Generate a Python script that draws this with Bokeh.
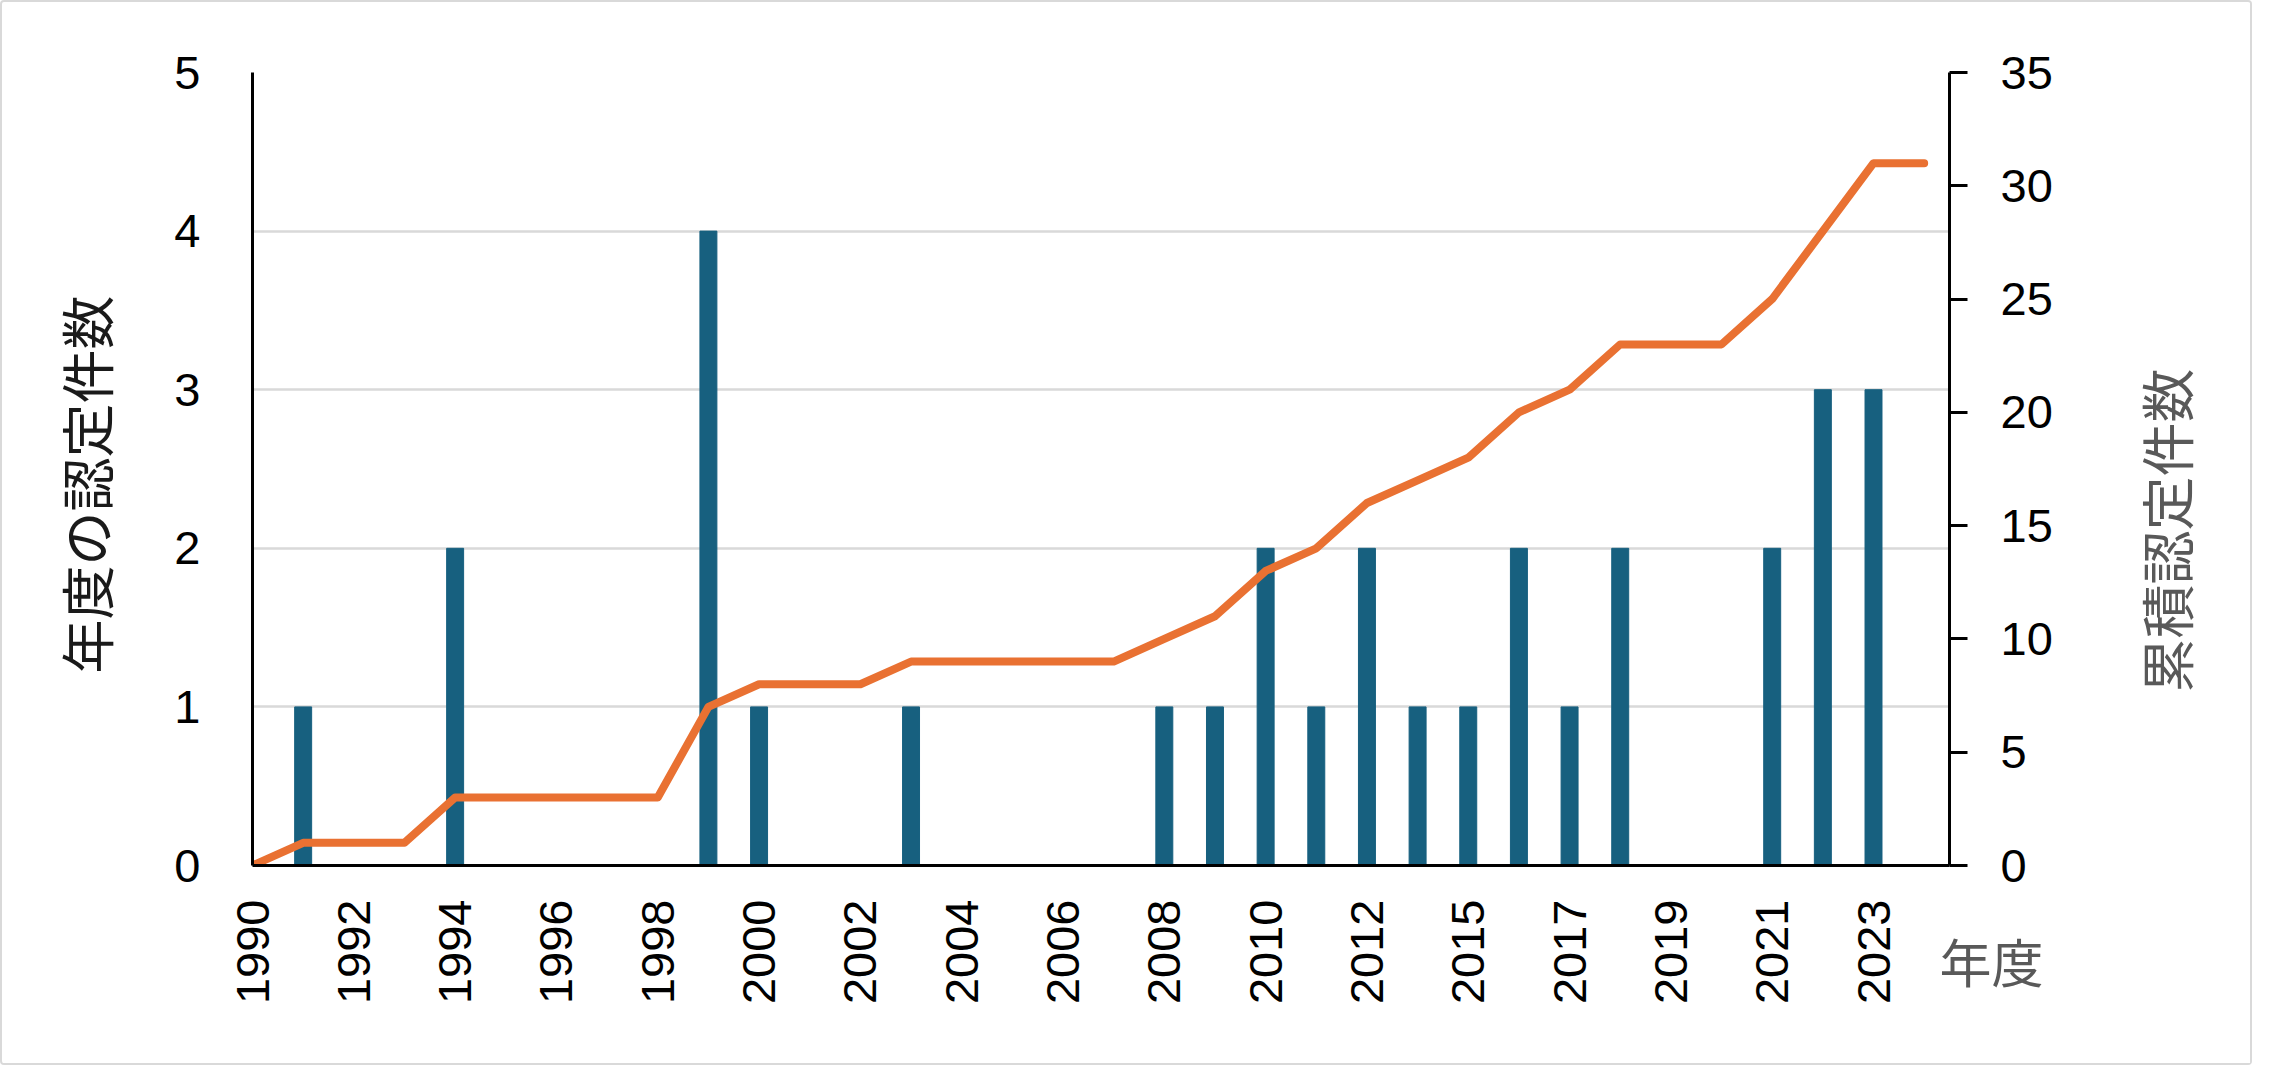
import math
from bokeh.plotting import figure
from bokeh.models import Range1d, LinearAxis, FixedTicker, Title
from bokeh.embed import file_html
from bokeh.resources import INLINE

# ---- data ----
years = ["1990", "1991", "1992", "1993", "1994", "1995", "1996", "1997", "1998", "1999",
         "2000", "2001", "2002", "2003", "2004", "2005", "2006", "2007", "2008", "2009",
         "2010", "2011", "2012", "2013", "2015", "2016", "2017", "2018", "2019", "2020",
         "2021", "2022", "2023", "2024"]
annual = [0, 1, 0, 0, 2, 0, 0, 0, 0, 4,
          1, 0, 0, 1, 0, 0, 0, 0, 1, 1,
          2, 1, 2, 1, 1, 2, 1, 2, 0, 0,
          2, 3, 3, 0]
cumulative = [0, 1, 1, 1, 3, 3, 3, 3, 3, 7,
              8, 8, 8, 9, 9, 9, 9, 9, 10, 11,
              13, 14, 16, 17, 18, 20, 21, 23, 23, 23,
              25, 28, 31, 31]
left_ticks = [0, 1, 2, 3, 4, 5]
right_ticks = [0, 5, 10, 15, 20, 25, 30, 35]
left_title = "年度の認定件数"
right_title = "累積認定件数"
x_title = "年度"

# ---- layout ----
W, H = 2252, 1065
OFF = 2  # border
FL, FT, FR, FB = 252 - OFF, 72 - OFF, 1949 - OFF, 865 - OFF
X_MAX = 33.5
L_MAX, R_MAX = 5, 35

BAR = "#17607f"
ORANGE = "#e97132"
GRID = "#d9d9d9"
TICK_FONT = "Liberation Sans"
CJK_FONT = "Noto Sans CJK JP"

xs = list(range(len(years)))

p = figure(width=W, height=H, x_range=Range1d(0, X_MAX), y_range=Range1d(0, L_MAX),
           output_backend="svg", toolbar_location=None,
           min_border_left=FL, min_border_top=FT,
           min_border_right=W - FR, min_border_bottom=H - FB)
p.extra_y_ranges = {"cum": Range1d(0, R_MAX)}
p.outline_line_color = None
p.background_fill_color = "white"
p.border_fill_color = "white"
p.styles = {"border": "2px solid #d9d9d9", "border-radius": "4px"}

# grid
p.xgrid.visible = False
p.ygrid.ticker = FixedTicker(ticks=left_ticks)
p.ygrid.grid_line_color = GRID
p.ygrid.grid_line_width = 2.5


def style_ticks(ax):
    ax.major_tick_in = 0
    ax.minor_tick_in = 0
    ax.minor_tick_out = 0
    ax.axis_line_color = "black"
    ax.axis_line_width = 3
    ax.major_label_text_font = TICK_FONT
    ax.major_label_text_font_size = "47px"
    ax.major_label_text_color = "black"


def title_axis(text, color, range_name, pos, standoff):
    """A bare axis (no line, no ticks) whose single rotated label is the title,
    anchored at `pos` along the axis (vertical text, reading bottom-to-top)."""
    kw = {"y_range_name": range_name} if range_name else {}
    ax = LinearAxis(ticker=FixedTicker(ticks=[pos]), **kw)
    ax.axis_line_color = None
    ax.major_tick_line_color = None
    ax.minor_tick_line_color = None
    ax.major_tick_in = ax.major_tick_out = 0
    ax.minor_tick_in = ax.minor_tick_out = 0
    ax.major_label_overrides = {pos: text}
    ax.major_label_orientation = math.pi / 2
    ax.major_label_standoff = standoff
    ax.major_label_text_font = CJK_FONT
    ax.major_label_text_font_size = "54px"
    ax.major_label_text_color = color
    return ax


def y_value(py_full, top):
    return (FB - (py_full - OFF)) / (FB - FT) * top


# bottom axis
xa = p.xaxis[0]
style_ticks(xa)
xa.ticker = FixedTicker(ticks=list(range(0, len(years), 2)))
xa.major_label_overrides = {i: years[i] for i in range(0, len(years), 2)}
xa.major_label_orientation = math.pi / 2
xa.major_tick_out = 0
xa.major_label_standoff = 34

# left axis
ya = p.yaxis[0]
style_ticks(ya)
ya.ticker = FixedTicker(ticks=left_ticks)
ya.major_tick_out = 0
ya.major_label_standoff = 52

# left title: text top anchored at ~y=295
lt = title_axis(left_title, "#1a1a1a", None, round(y_value(295, L_MAX), 4), 86)
p.add_layout(lt, "left")

# right axis
ra = LinearAxis(y_range_name="cum", ticker=FixedTicker(ticks=right_ticks))
style_ticks(ra)
ra.major_tick_out = 18
ra.major_tick_line_width = 3
ra.major_tick_line_color = "black"
ra.major_label_standoff = 33
p.add_layout(ra, "right")

# right title: text start anchored at ~y=692
rt = title_axis(right_title, "#595959", "cum", round(y_value(692, R_MAX), 4), 110)
p.add_layout(rt, "right")

# marks
p.vbar(x=xs, top=annual, width=0.335, color=BAR)
p.line(x=xs, y=cumulative, y_range_name="cum", line_width=8, color=ORANGE,
       line_cap="round", line_join="round")

# x-axis title beside the tick labels (pulled up next to the last tick labels)
p.add_layout(Title(text=x_title, align="right", vertical_align="top", offset=-94, standoff=-170,
                   text_font=CJK_FONT, text_font_size="52px", text_font_style="normal",
                   text_color="#595959"), "below")

open("out.html", "w").write(file_html(p, INLINE))
